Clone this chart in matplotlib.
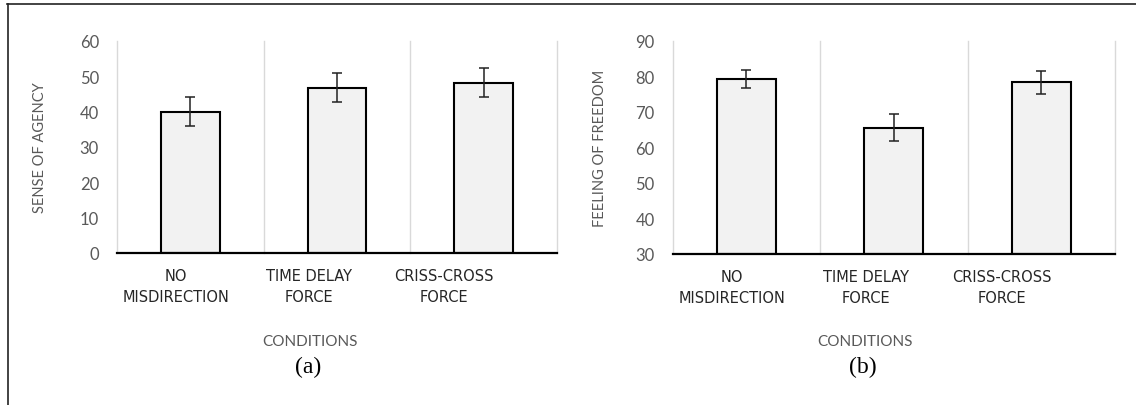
import matplotlib
matplotlib.use('Agg')
import matplotlib.pyplot as plt
from matplotlib.lines import Line2D
import numpy as np

# condition means and error bars for the two measures
conditions = ["NO\nMISDIRECTION", "TIME DELAY\nFORCE", "CRISS-CROSS\nFORCE"]
agency_mean = [40.0, 46.8, 48.2]
agency_err = [4.1, 4.1, 4.1]
freedom_mean = [79.2, 65.5, 78.4]
freedom_err = [2.5, 3.8, 3.2]

TICK_GRAY = '#595959'
BAR_FILL = '#f2f2f2'
GRID = '#d9d9d9'

fig = plt.figure(figsize=(11.36, 4.06), dpi=100)
fig.patch.set_facecolor('white')

# label centres sit a little left of the bars
label_shift = [-0.1, -0.19, -0.27]


def draw_panel(ax, means, errs, ylim, yticks, ylabel, ylab_x):
    x = np.arange(len(means))
    ax.bar(x, np.array(means) - ylim[0], bottom=ylim[0], width=0.4,
           color=BAR_FILL, edgecolor='black', linewidth=1.5, zorder=3)
    ax.errorbar(x, means, yerr=errs, fmt='none', ecolor='#222222',
                elinewidth=1.1, capsize=3.4, capthick=1.1, zorder=4)
    for b in np.arange(-0.5, len(means), 1.0):
        ax.axvline(b, color=GRID, linewidth=1.0, zorder=1, clip_on=False)
    ax.set_xlim(-0.5, len(means) - 0.5)
    ax.set_ylim(*ylim)
    ax.set_yticks(yticks)
    ax.tick_params(axis='y', length=0, pad=13, labelsize=12, labelcolor=TICK_GRAY)
    for t in ax.get_yticklabels():
        t.set_fontfamily('Lato')
    ax.set_xticks(x + np.array(label_shift))
    ax.set_xticklabels(conditions, fontsize=10.5, color='#262626',
                       fontfamily='DejaVu Sans', linespacing=1.45)
    ax.tick_params(axis='x', length=0, pad=11)
    for s in ['top', 'right', 'left']:
        ax.spines[s].set_visible(False)
    ax.spines['bottom'].set_linewidth(1.6)
    ax.spines['bottom'].set_zorder(5)
    ax.set_ylabel(ylabel, fontsize=10.5, color=TICK_GRAY, fontfamily='Lato')
    ax.yaxis.set_label_coords(ylab_x, 0.5)


ax1 = fig.add_axes([0.103, 0.3744, 0.3873, 0.5222])
draw_panel(ax1, agency_mean, agency_err, (0, 60), range(0, 61, 10),
           'SENSE OF AGENCY', -0.159)

ax2 = fig.add_axes([0.5922, 0.372, 0.3893, 0.5246])
draw_panel(ax2, freedom_mean, freedom_err, (30, 90), range(30, 91, 10),
           'FEELING OF FREEDOM', -0.149)

# shared x titles and panel tags
for xc, tag in [(310, '(a)'), (865, '(b)')]:
    fig.text(xc / 1136, 1 - 342 / 406, 'CONDITIONS', ha='center', va='center',
             fontsize=11, color=TICK_GRAY, fontfamily='Lato')
    fig.text(xc / 1136 - 0.002, 1 - 367 / 406, tag, ha='center', va='center',
             fontsize=17, color='black', fontfamily='Liberation Serif')

# frame lines along top and left edge
fig.add_artist(Line2D([7 / 1136, 1.0], [1 - 5 / 406] * 2, color='#222222', linewidth=1.2))
fig.add_artist(Line2D([8 / 1136] * 2, [0.0, 1 - 5 / 406], color='#222222', linewidth=1.2))

fig.savefig('out.png', dpi=100, facecolor='white')
